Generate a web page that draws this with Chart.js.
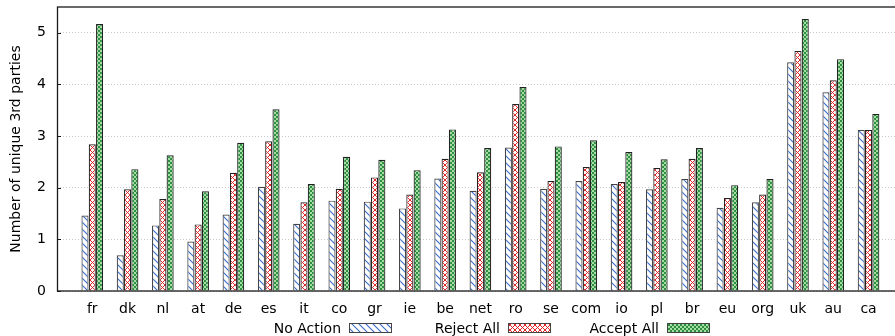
<!DOCTYPE html>
<html>
<head>
<meta charset="utf-8">
<script src="https://cdn.jsdelivr.net/npm/chart.js@4.4.1/dist/chart.umd.min.js"></script>
<style>
  html, body { margin: 0; padding: 0; background: #fff; }
</style>
</head>
<body>
<canvas id="chart" width="895" height="336"></canvas>
<script>
const categories = ['fr', 'dk', 'nl', 'at', 'de', 'es', 'it', 'co', 'gr', 'ie', 'be', 'net', 'ro', 'se', 'com', 'io', 'pl', 'br', 'eu', 'org', 'uk', 'au', 'ca'];
const noAction  = [1.46, 0.69, 1.27, 0.96, 1.48, 2.02, 1.30, 1.75, 1.73, 1.60, 2.18, 1.94, 2.78, 1.98, 2.13, 2.07, 1.97, 2.17, 1.61, 1.72, 4.43, 3.85, 3.12];
const rejectAll = [2.84, 1.97, 1.78, 1.29, 2.29, 2.90, 1.72, 1.98, 2.20, 1.87, 2.56, 2.30, 3.62, 2.13, 2.40, 2.11, 2.38, 2.56, 1.80, 1.87, 4.65, 4.08, 3.12];
const acceptAll = [5.17, 2.36, 2.63, 1.93, 2.87, 3.52, 2.07, 2.60, 2.54, 2.34, 3.13, 2.77, 3.95, 2.80, 2.92, 2.69, 2.55, 2.77, 2.05, 2.17, 5.27, 4.49, 3.43];
const seriesNames = ['No Action', 'Reject All', 'Accept All'];
const yTicks = [0, 1, 2, 3, 4, 5];

const font = { family: '"DejaVu Sans", sans-serif', size: 14 };

// small canvas tiles used as bar fills
function makePattern(size, draw) {
    const c = document.createElement('canvas');
    c.width = size;
    c.height = size;
    const g = c.getContext('2d');
    draw(g, size);
    return g.createPattern(c, 'repeat');
}

const hatch = makePattern(7, (g, s) => {
    g.fillStyle = '#fff';
    g.fillRect(0, 0, s, s);
    g.strokeStyle = '#3a6cc8';
    g.lineWidth = 1.1;
    g.beginPath();
    g.moveTo(-1, -1); g.lineTo(s + 1, s + 1);
    g.moveTo(-1, s - 1); g.lineTo(1, s + 1);
    g.moveTo(s - 1, -1); g.lineTo(s + 1, 1);
    g.stroke();
});

const cross = makePattern(5, (g, s) => {
    g.fillStyle = '#fff';
    g.fillRect(0, 0, s, s);
    g.strokeStyle = '#e0282a';
    g.lineWidth = 1;
    g.beginPath();
    g.moveTo(0, 0); g.lineTo(s, s);
    g.moveTo(s, 0); g.lineTo(0, s);
    g.stroke();
});

const checker = makePattern(4, (g, s) => {
    g.fillStyle = '#a6dca6';
    g.fillRect(0, 0, s, s);
    g.fillStyle = '#2f8f40';
    g.fillRect(0, 0, 2, 2);
    g.fillRect(2, 2, 2, 2);
});

const fills = [hatch, cross, checker];
const series = [noAction, rejectAll, acceptAll];

const framePlugin = {
    id: 'frame',
    afterDatasetsDraw(chart) {
        const { ctx, chartArea: a, scales } = chart;
        ctx.save();
        ctx.strokeStyle = '#1a1a1a';
        ctx.lineWidth = 1.3;
        ctx.strokeRect(a.left + 0.5, a.top, a.right - a.left + 5, a.bottom - a.top);
        ctx.lineWidth = 1;
        ctx.beginPath();
        yTicks.forEach(v => {
            const y = Math.round(scales.y.getPixelForValue(v)) + 0.5;
            ctx.moveTo(a.left, y);
            ctx.lineTo(a.left + 4, y);
        });
        ctx.stroke();
        ctx.restore();
    }
};

const legendPlugin = {
    id: 'bottomLegend',
    afterDraw(chart) {
        const { ctx } = chart;
        ctx.save();
        ctx.font = `${font.size}px ${font.family}`;
        ctx.fillStyle = '#000';
        ctx.textAlign = 'right';
        ctx.textBaseline = 'alphabetic';
        seriesNames.forEach((name, i) => {
            const x = 349 + i * 159;
            ctx.fillText(name, x - 8, 333);
            ctx.fillStyle = fills[i];
            ctx.fillRect(x, 323, 42, 9);
            ctx.strokeStyle = '#444';
            ctx.lineWidth = 1;
            ctx.strokeRect(x + 0.5, 323.5, 42, 9);
            ctx.fillStyle = '#000';
        });
        ctx.restore();
    }
};

new Chart(document.getElementById('chart'), {
    type: 'bar',
    data: {
        datasets: series.map((vals, k) => ({
            label: seriesNames[k],
            data: vals.map((v, i) => ({ x: i, y: v })),
            backgroundColor: fills[k],
            borderColor: k === 0 ? '#444' : '#222',
            borderWidth: 1.2,
            borderSkipped: 'bottom'
        }))
    },
    options: {
        responsive: false,
        animation: false,
        devicePixelRatio: 1,
        layout: { padding: { top: 7, right: 0, bottom: 0, left: 0 } },
        datasets: { bar: { categoryPercentage: 0.62, barPercentage: 0.97 } },
        plugins: {
            legend: { display: false },
            tooltip: { enabled: false }
        },
        scales: {
            x: {
                type: 'linear',
                min: -1,
                max: 22.75,
                bounds: 'data',
                offset: false,
                afterBuildTicks: s => { s.ticks = categories.map((c, i) => ({ value: i })); },
                afterFit: s => { s.height = 45; s.paddingLeft = 0; s.paddingRight = 0; },
                grid: { display: false },
                border: { display: false },
                ticks: {
                    autoSkip: false,
                    maxRotation: 0,
                    padding: 2,
                    color: '#000',
                    font: font,
                    callback: v => categories[v] ?? ''
                }
            },
            y: {
                min: 0,
                max: 5.5,
                afterBuildTicks: s => { s.ticks = yTicks.map(v => ({ value: v })); },
                afterFit: s => { s.width = 57; s.paddingTop = 0; s.paddingBottom = 0; },
                grid: { color: '#c8c8c8', lineWidth: 1, drawTicks: false },
                border: { display: false, dash: [1, 2] },
                ticks: { padding: 11, color: '#000', font: font },
                title: {
                    display: true,
                    text: 'Number of unique 3rd parties',
                    color: '#000',
                    font: font,
                    padding: { top: 8, bottom: 0 }
                }
            }
        }
    },
    plugins: [framePlugin, legendPlugin]
});
</script>
</body>
</html>
